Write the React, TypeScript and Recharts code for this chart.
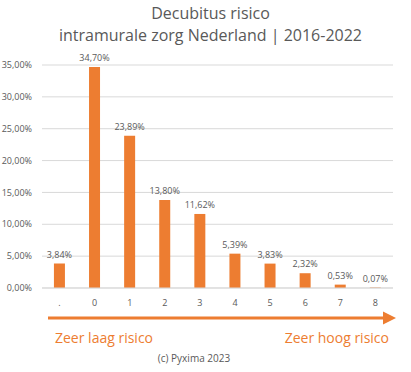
import { BarChart, Bar, XAxis, YAxis, CartesianGrid, LabelList } from "recharts";

const categories = [".", "0", "1", "2", "3", "4", "5", "6", "7", "8"];
const shares = [3.84, 34.7, 23.89, 13.8, 11.62, 5.39, 3.83, 2.32, 0.53, 0.07];
const yTicks = [0, 5, 10, 15, 20, 25, 30, 35];

const data = categories.map((cat, i) => ({ cat, value: shares[i] }));

const ORANGE = "#ED7D31";
const GRAY = "#595959";
const FONT = "'Open Sans', sans-serif";

const pct = (v: number) => v.toFixed(2).replace(".", ",") + "%";

export default function App() {
  return (
    <div style={{ position: "relative", width: 411, height: 372, background: "#fff", fontFamily: FONT }}>
      <style>{"body{margin:0}"}</style>
      <div style={{ position: "absolute", top: 2, left: 0, width: 421, textAlign: "center", color: GRAY, fontSize: 16, lineHeight: "22px" }}>
        Decubitus risico
        <br />
        intramurale zorg Nederland | 2016-2022
      </div>
      <BarChart width={411} height={372} data={data} margin={{ top: 65, right: 18, bottom: 54, left: 0 }} barCategoryGap="34%">
        <CartesianGrid vertical={false} stroke="#d9d9d9" />
        <XAxis
          dataKey="cat"
          tickLine={false}
          axisLine={{ stroke: "#d9d9d9" }}
          tick={{ fill: GRAY, fontSize: 9, fontFamily: FONT }}
          tickMargin={6}
        />
        <YAxis
          width={42}
          domain={[0, 35]}
          ticks={yTicks}
          tickFormatter={pct}
          tickLine={false}
          axisLine={false}
          tick={{ fill: GRAY, fontSize: 9, fontFamily: FONT }}
          tickMargin={4}
        />
        <Bar dataKey="value" fill={ORANGE} isAnimationActive={false}>
          <LabelList dataKey="value" position="top" formatter={(v: any) => pct(Number(v))} style={{ fill: GRAY, fontSize: 9, fontFamily: FONT }} offset={6} />
        </Bar>
      </BarChart>
      <svg width={411} height={372} style={{ position: "absolute", left: 0, top: 0, pointerEvents: "none" }}>
        <line x1={48} y1={318} x2={385} y2={318} stroke={ORANGE} strokeWidth={3} />
        <polygon points="383,311.5 396,318 383,324.5" fill={ORANGE} />
        <text x={55} y={343} fill={ORANGE} fontSize={14} fontFamily={FONT}>Zeer laag risico</text>
        <text x={389} y={343} fill={ORANGE} fontSize={14} fontFamily={FONT} textAnchor="end">Zeer hoog risico</text>
        <text x={194} y={362} fill={GRAY} fontSize={10} fontFamily={FONT} textAnchor="middle">(c) Pyxima 2023</text>
      </svg>
    </div>
  );
}
